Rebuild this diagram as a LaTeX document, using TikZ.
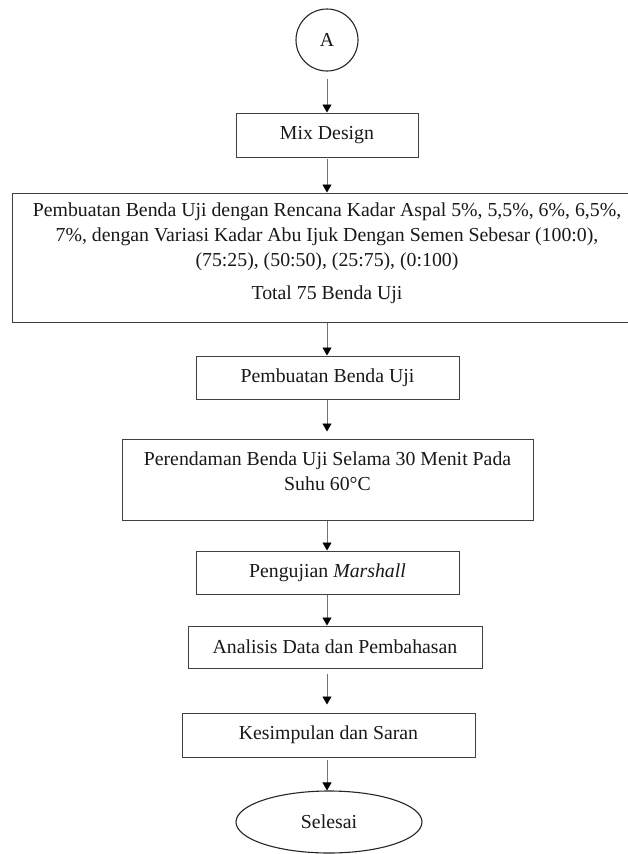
\documentclass[tikz,border=0pt]{standalone}
\usepackage{fontspec}
\setmainfont{Liberation Serif}
\usetikzlibrary{arrows.meta,shapes.geometric}
\begin{document}
\begin{tikzpicture}[x=1pt,y=-1pt,
  every node/.style={font=\fontsize{19.8}{25}\selectfont, inner sep=0pt, text=black!90},
  box/.style={draw=black!75, line width=1pt, rectangle, align=center},
  arr/.style={draw=black!55, line width=0.9pt, -{Triangle[width=9pt,length=8pt,black]}}]
\useasboundingbox (0,0) rectangle (628,854);
\fill[white] (0,0) rectangle (628,854);
\node[draw=black!85, line width=1.1pt, circle, minimum size=62pt] (a) at (327,40) {A};
\node[box, minimum width=182pt, minimum height=44pt] (mix) at (327,135) {Mix Design};
\node[box, minimum width=630pt, minimum height=129pt] (big) at (327,257.5) {};
\node[align=center] (bigt) at (327,253) {Pembuatan Benda Uji dengan Rencana Kadar Aspal 5\%, 5,5\%, 6\%, 6,5\%,\\7\%, dengan Variasi Kadar Abu Ijuk Dengan Semen Sebesar (100:0),\\(75:25), (50:50), (25:75), (0:100)\\[8pt]Total 75 Benda Uji};
\node[box, minimum width=263pt, minimum height=43pt] (pb) at (327.5,377.5) {Pembuatan Benda Uji};
\node[box, minimum width=411pt, minimum height=81pt] (pr) at (327.5,479.5) {};
\node[align=center] (prt) at (327.5,471.5) {Perendaman Benda Uji Selama 30 Menit Pada\\Suhu 60°C};
\node[box, minimum width=263pt, minimum height=43pt] (pm) at (327.5,572.5) {Pengujian \textit{Marshall}};
\node[box, minimum width=294pt, minimum height=42pt] (an) at (335,647) {Analisis Data dan Pembahasan};
\node[box, minimum width=293pt, minimum height=44pt] (ks) at (328.5,735) {Kesimpulan dan Saran};
\node[draw=black!85, line width=1.1pt, ellipse, minimum width=186pt, minimum height=62pt] (se) at (329,822) {Selesai};
\draw[arr, shorten <=7pt] (a.south) -- (mix.north);
\draw[arr, shorten <=1pt] (mix.south) -- (big.north -| mix.south);
\draw[arr] (big.south -| mix.south) -- (pb.north -| mix.south);
\draw[arr, shorten >=7pt] (pb.south -| mix.south) -- (pr.north -| mix.south);
\draw[arr] (pr.south -| mix.south) -- (pm.north -| mix.south);
\draw[arr] (pm.south -| mix.south) -- (an.north -| mix.south);
\draw[arr, shorten <=5pt, shorten >=8pt] (an.south -| mix.south) -- (ks.north -| mix.south);
\draw[arr, shorten <=2pt] (ks.south -| mix.south) -- (se.north -| mix.south);
\end{tikzpicture}
\end{document}
